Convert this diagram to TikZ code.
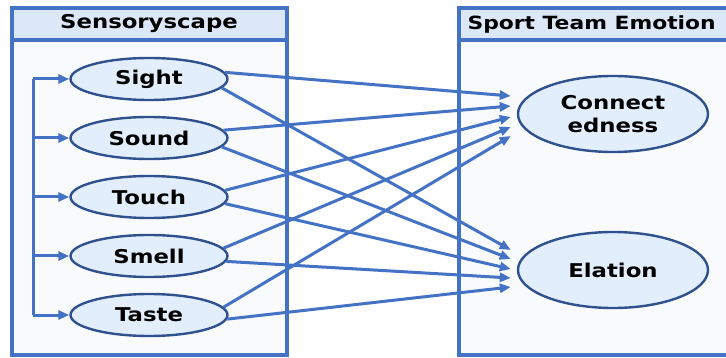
\documentclass[tikz,border=0pt]{standalone}
\usepackage{fontspec}
\setmainfont{DejaVu Sans}[FakeStretch=1.2]
\usetikzlibrary{arrows.meta,shapes.geometric}

\definecolor{lineblue}{HTML}{4472C4}
\definecolor{rimblue}{HTML}{2F528F}
\definecolor{ovalfill}{HTML}{E3EEFD}
\definecolor{headfill}{HTML}{DCE7F8}
\definecolor{boxfill}{HTML}{F9FAFC}

\tikzset{
  panel/.style={draw=lineblue, line width=3.4pt, fill=boxfill},
  head/.style={draw=lineblue, line width=3.4pt, fill=headfill},
  sense/.style={ellipse, draw=rimblue, line width=2.4pt, fill=ovalfill,
    minimum width=157pt, minimum height=42pt, inner sep=0pt,
    font=\fontsize{19}{21}\selectfont\bfseries},
  emo/.style={ellipse, draw=rimblue, line width=2.4pt, fill=ovalfill,
    minimum width=190pt, minimum height=76pt, inner sep=0pt, align=center,
    font=\fontsize{19}{23}\selectfont\bfseries},
  arr/.style={draw=lineblue, line width=3pt, -{Triangle[length=11pt,width=9pt]}},
  bus/.style={draw=lineblue, line width=3pt}
}

\begin{document}
\begin{tikzpicture}[x=1pt,y=-1pt]
    \useasboundingbox (0,0) rectangle (726,358);
    % panels
    \draw[panel] (12,8) rectangle (287,355);
    \draw[head] (12,8) rectangle (287,40);
    \draw[panel] (459,8) rectangle (740,355);
    \draw[head] (459,8) rectangle (740,40);
    \node[font=\fontsize{19}{21}\selectfont\bfseries] (T1) at (149,24) {Sensoryscape};
    \node[font=\fontsize{18.2}{21}\selectfont\bfseries, anchor=west] (T2) at (464,24) {Sport Team Emotion};
    % senses
    \node[sense] (Sight) at (149,79) {Sight};
    \node[sense] (Sound) at (149,138) {Sound};
    \node[sense] (Touch) at (149,197) {Touch};
    \node[sense] (Smell) at (149,256) {Smell};
    \node[sense] (Taste) at (149,315) {Taste};
    % emotions
    \node[emo] (Conn) at (613,114) {Connect\\edness};
    \node[emo] (Elat) at (613,270) {Elation};
    % feed bus
    \coordinate (busT) at (33,79);
    \coordinate (busB) at (33,315);
    \draw[bus] (busT) -- (busB);
    \foreach \s in {Sight,Sound,Touch,Smell,Taste}
        \draw[arr] (\s.west -| busT) -- (\s.west);
    % links
    \draw[arr] (Sight.5) -- ([xshift=-6pt,yshift=18pt]Conn.west);
    \draw[arr] (Sound.6) -- ([xshift=-6pt,yshift=8pt]Conn.west);
    \draw[arr] (Touch.5) -- ([xshift=-6pt,yshift=-3pt]Conn.west);
    \draw[arr] (Smell.6) -- ([xshift=-6pt,yshift=-13pt]Conn.west);
    \draw[arr] (Taste.6) -- ([xshift=-6pt,yshift=-22pt]Conn.west);
    \draw[arr] (Sight.-7) -- ([xshift=-6pt,yshift=20pt]Elat.west);
    \draw[arr] (Sound.-7) -- ([xshift=-6pt,yshift=11pt]Elat.west);
    \draw[arr] (Touch.-5) -- ([xshift=-6pt,yshift=1pt]Elat.west);
    \draw[arr] (Smell.-4) -- ([xshift=-6pt,yshift=-8pt]Elat.west);
    \draw[arr] (Taste.-3) -- ([xshift=-6pt,yshift=-17pt]Elat.west);
\end{tikzpicture}
\end{document}
